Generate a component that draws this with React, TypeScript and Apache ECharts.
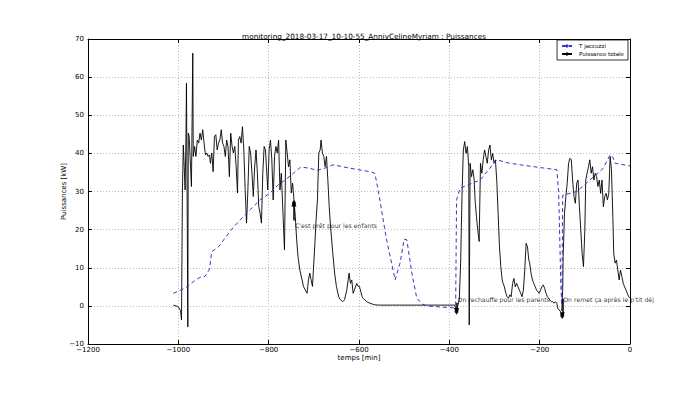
import React, { useEffect, useRef } from "react";
import * as echarts from "echarts";

const titleText = "monitoring_2018-03-17_10-10-55_AnnivCelineMyriam : Puissances";
const seriesNames = ["T jaccuzzi", "Puissance totale"];

const jaccuzziTime = [-1011, -993, -981, -966, -952, -941, -931, -926, -911, -882, -849, -819, -797, -775, -768, -745, -729, -708, -694, -674, -657, -620, -576, -565, -557, -540, -520, -509, -500, -494, -483, -472, -460, -450, -420, -390, -386, -384, -376, -332, -295, -270, -243, -200, -162, -158, -153, -151, -149, -118, -89, -60, -44, -38, -33, 0];
const jaccuzziValues = [3.3, 4.2, 5, 6.4, 7.5, 7.7, 9.6, 14.2, 15.5, 20.1, 24.3, 27.8, 29.6, 32.2, 32.6, 34.8, 36.4, 36.1, 35.5, 36.2, 37, 36.1, 35.2, 34.8, 30, 18, 6.8, 11.3, 17.5, 17.3, 8.6, 2, 0.5, 0, -0.3, -0.5, 0, 27.8, 30.9, 33, 38.3, 37.5, 37, 36.3, 35.7, 30, 5, 0.2, 29, 30, 33, 36, 39.6, 39, 37.4, 36.7];

const puissanceTime = [
  -1011, -1000, -995, -993, -991, -989, -987, -985, -983, -982, -980, -979, -978, -976, -973, -971, -968, -967, -964, -961, -958, -955, -952, -949, -946, -943, -940, -937, -934, -931, -929, -926, -923, -920, -917, -914, -911, -908, -905, -902, -899, -896, -893, -890, -887, -884, -881, -878, -875, -872, -869, -867, -864, -861, -858, -855, -852, -849, -846, -843, -840, -837, -834, -831, -828, -825, -822, -819, -816, -813, -810, -807, -805, -802, -799, -796, -793, -790, -787, -784, -781, -778, -775, -772, -768, -765, -762, -759, -756, -753, -750, -747, -744, -741, -738, -735, -731, -726, -723, -719, -715, -712, -709, -706, -703, -698, -695, -692, -689, -686, -684, -681, -678, -675, -672, -669, -666, -663, -658, -654, -650, -645, -641, -636, -632, -627, -624, -622, -619, -616, -613, -610, -605, -602, -599, -596, -593, -591, -583, -576, -566, -556,
  -421, -388, -384, -378, -375, -372, -369, -366, -363, -360, -357, -356, -354, -351, -348, -345, -343, -340, -337, -334, -331, -328, -325, -322, -319, -316, -313, -310, -307, -304, -301, -298, -295, -292, -289, -286, -283, -281, -278, -275, -272, -269, -266, -263, -260, -257, -254, -251, -248, -245, -242, -239, -236, -233, -230, -227, -224, -222, -219, -216, -213, -210, -207, -204, -201, -198, -195, -192, -189, -186, -183, -180, -177, -174, -171, -168, -165, -162, -160, -157, -154, -151, -149, -148, -145, -142, -139, -136, -133, -130, -127, -124, -121, -118, -115, -112, -109, -106, -103, -100, -98, -95, -92, -89, -86, -83, -80, -77, -74, -71, -68, -65, -62, -59, -56, -53, -50, -47, -44, -41, -38, -36, -33, -30, -27, -24, -21, -18, -15, -12, -9, -6, -3, 0
];
const puissanceValues = [
  0.2, -0.2, -1.3, -3.7, 29.6, 42.2, 36.5, 30.4, 45.3, 58.4, 17.3, -5.5, 45.3, 44.4, 36.5, 31.3, 66.3, 39.2, 41.8, 39.2, 43.5, 42.7, 45.3, 43.5, 46.2, 42.7, 39.6, 40.1, 39.2, 39.6, 37.4, 40.1, 35.2, 44.4, 44.9, 40.9, 42.7, 43.5, 46.2, 42.7, 41.8, 39.2, 43.5, 41.8, 33.9, 45.3, 41.8, 40.1, 41.8, 36.5, 29.6, 43.5, 44.4, 42.7, 47, 40.9, 30.4, 21.7, 30.4, 41.8, 40.1, 34.8, 28.7, 36.5, 40.9, 34.8, 26.1, 24.3, 21.7, 34.8, 41.8, 40.9, 36.5, 30.4, 40.9, 43.5, 38.3, 27.8, 39.2, 41.8, 40.1, 43.5, 30.4, 34.8, 23.4, 14.7, 43.5, 40.1, 36.5, 38.3, 29.6, 32.2, 27.8, 23.4, 17.3, 12.9, 9.4, 6.8, 5.1, 4.2, 3.3, 6.8, 8.6, 6.8, 5.1, 15.6, 22.6, 27.8, 40.1, 40.9, 43.5, 40.1, 39.2, 36.5, 39.2, 33.1, 26.1, 20.8, 13.8, 8.6, 5.1, 2.4, 1.6, 1.1, 1.6, 4.2, 6.8, 8.6, 5.9, 6.8, 3.3, 4.2, 5.9, 5.1, 5.1, 3.7, 2.4, 2, 1.1, 0.7, 0.3, 0.2,
  0.2, 0.2, -1.1, 1.5, 11.2, 28.7, 40.9, 43.1, 40, 41.8, 36.5, -5, 37.4, 33.9, 35.7, 33, 27.8, 23.4, 19.9, 16.9, 37.4, 34.8, 38.3, 40.9, 39.2, 37.4, 40.9, 42.2, 38.3, 40, 37.4, 38.3, 33, 24.3, 15.5, 10.3, 6.8, 5.9, 5, 3.3, 2.4, 2, 2.9, 2.4, 5.9, 7.2, 5, 5.9, 5, 4.2, 3.3, 2.4, 4.2, 9.4, 16.4, 15.5, 12, 11.2, 8.5, 6.8, 5.9, 5, 4.2, 3.7, 3.3, 4.2, 5, 5.5, 4.6, 3.3, 2.4, 2, 1.5, 1.1, 1.1, 0.7, 1.1, 0.7, -0.6, -1.1, -1.5, -1.1, 4.2, 12.9, 24.3, 28.7, 32.2, 37.4, 38.7, 38.3, 33, 28.7, 26.9, 32.2, 33, 26, 19.9, 13.8, 10.3, 19.9, 33, 34.8, 36.5, 38.3, 34.8, 36.5, 33, 34.8, 33.9, 31.3, 33, 29.5, 33, 26, 28.7, 29.5, 27.8, 29.5, 39.2, 35.7, 23.4, 13.8, 11.2, 12, 9.4, 6.8, 9.4, 7.7, 5.9, 5, 4.2, 3.3, 2.4, 2
];

const xTicks = [-1200, -1000, -800, -600, -400, -200, 0];
const yTicks = [-10, 0, 10, 20, 30, 40, 50, 60, 70];

const annotationTexts = ["C'est prêt pour les enfants", "On rechauffe pour les parents", "On remet ça après le p'tit déj"];
const annotationX = [-744, -384, -150];
const annotationY = [27, -1.5, -2.6];
const annotationTextY = [21, 1.6, 1.6];
const annotationTailY = [22.4, 0.8, 1.9];

const FONT = "DejaVu Sans";
const fmt = (v: number) => String(v).replace("-", "\u2212");

export default function App() {
  const ref = useRef<HTMLDivElement>(null);
  useEffect(() => {
    if (!ref.current) return;
    const chart = echarts.init(ref.current, undefined, { renderer: "svg" });
    const xMin = xTicks[0];
    const xMax = xTicks[xTicks.length - 1];
    const yMin = yTicks[0];
    const yMax = yTicks[yTicks.length - 1];
    const axisCommon = {
      type: "value" as const,
      min: xMin,
      max: xMax,
      interval: 200,
    };
    chart.setOption({
      animation: false,
      textStyle: { fontFamily: FONT },
      title: {
        text: titleText,
        left: 359,
        textAlign: "center",
        top: 28,
        textStyle: { fontFamily: FONT, fontSize: 7.3, fontWeight: "normal", color: "#000" },
      },
      legend: {
        data: seriesNames,
        orient: "vertical",
        right: 72,
        top: 40,
        padding: [3, 4, 3, 4],
        itemGap: 2,
        itemWidth: 10,
        itemHeight: 4,
        borderColor: "#000",
        borderWidth: 0.8,
        backgroundColor: "#fff",
        textStyle: { fontFamily: FONT, fontSize: 5.5, color: "#000", padding: [0, 0, 0, 2] },
      },
      grid: { left: 88, right: 70, top: 39, bottom: 49 },
      xAxis: [
        {
          ...axisCommon,
          position: "bottom",
          name: "temps [min]",
          nameLocation: "middle",
          nameGap: 10,
          nameMoveOverlap: false,
          nameTextStyle: { fontFamily: FONT, fontSize: 7, color: "#000" },
          axisLine: { onZero: false, lineStyle: { color: "#000", width: 1 } },
          axisTick: { inside: true, length: 4, lineStyle: { color: "#000" } },
          axisLabel: { fontFamily: FONT, fontSize: 7, color: "#000", margin: 2, formatter: fmt },
          splitLine: { show: true, lineStyle: { color: "#aaa", type: [1, 2], width: 0.8 } },
        },
        {
          ...axisCommon,
          position: "top",
          axisLine: { onZero: false, lineStyle: { color: "#000", width: 1 } },
          axisTick: { inside: true, length: 4, lineStyle: { color: "#000" } },
          axisLabel: { show: false },
          splitLine: { show: false },
        },
      ],
      yAxis: [
        {
          type: "value",
          min: yMin,
          max: yMax,
          interval: 10,
          position: "left",
          name: "Puissances [kW]",
          nameLocation: "middle",
          nameGap: 21,
          nameMoveOverlap: false,
          nameTextStyle: { fontFamily: FONT, fontSize: 7, color: "#000" },
          axisLine: { show: true, onZero: false, lineStyle: { color: "#000", width: 1 } },
          axisTick: { show: true, inside: true, length: 4, lineStyle: { color: "#000" } },
          axisLabel: { fontFamily: FONT, fontSize: 7, color: "#000", margin: 4, formatter: fmt },
          splitLine: { show: true, lineStyle: { color: "#aaa", type: [1, 2], width: 0.8 } },
        },
        {
          type: "value",
          min: yMin,
          max: yMax,
          interval: 10,
          position: "right",
          axisLine: { show: true, onZero: false, lineStyle: { color: "#000", width: 1 } },
          axisTick: { show: true, inside: true, length: 4, lineStyle: { color: "#000" } },
          axisLabel: { show: false },
          splitLine: { show: false },
        },
      ],
      series: [
        {
          name: seriesNames[0],
          type: "line",
          showSymbol: false,
          symbol: "none",
          data: jaccuzziTime.map((t, i) => [t, jaccuzziValues[i]]),
          lineStyle: { color: "#3535c8", width: 1, type: [4, 3] },
          itemStyle: { color: "#3535c8" },
          z: 3,
        },
        {
          name: seriesNames[1],
          type: "line",
          showSymbol: false,
          symbol: "none",
          data: puissanceTime.map((t, i) => [t, puissanceValues[i]]),
          lineStyle: { color: "#000", width: 0.9 },
          itemStyle: { color: "#000" },
          z: 2,
          markLine: {
            silent: true,
            symbol: ["none", "triangle"],
            symbolSize: [5, 7],
            label: { show: false },
            lineStyle: { color: "#000", width: 1.5, type: "solid" },
            data: annotationX.map((x, i) => [
              { coord: [x, annotationTailY[i]] },
              { coord: [x, annotationY[i]] },
            ]),
          },
        },
        {
          name: "annotation points",
          type: "scatter",
          silent: true,
          symbol: "circle",
          symbolSize: 4,
          itemStyle: { color: "#000" },
          data: annotationX.map((x, i) => [x, annotationY[i]]),
          z: 5,
        },
        {
          name: "annotation texts",
          type: "scatter",
          silent: true,
          symbolSize: 0,
          data: annotationX.map((x, i) => [x, annotationTextY[i]]),
          label: {
            show: true,
            position: "right",
            distance: 1,
            fontFamily: FONT,
            fontSize: 6.2,
            color: "#000",
            formatter: (p: any) => annotationTexts[p.dataIndex],
          },
          z: 6,
        },
      ],
    });
    return () => chart.dispose();
  }, []);
  return (
    <div
      ref={ref}
      style={{ position: "fixed", left: 0, top: 0, width: 700, height: 393, background: "#fff" }}
    />
  );
}
